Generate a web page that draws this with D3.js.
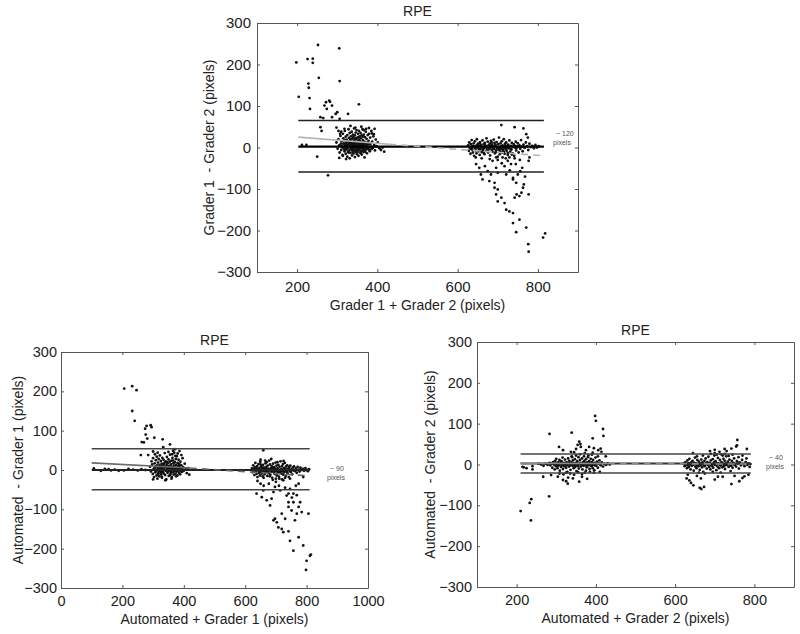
<!DOCTYPE html>
<html><head><meta charset="utf-8">
<script src="https://cdn.jsdelivr.net/npm/d3@7"></script>
<style>
body{margin:0;background:#fff}
text{font-family:"Liberation Sans",Arial,Helvetica,sans-serif;fill:#222}
</style></head>
<body><svg id="chart" width="800" height="634"></svg>
<script>
// ---------------- DATA ----------------
const panelTitles = ["RPE", "RPE", "RPE"];
const xAxisLabels = ["Grader 1 + Grader 2 (pixels)", "Automated + Grader 1 (pixels)", "Automated + Grader 2 (pixels)"];
const yAxisLabels = ["Grader 1  - Grader 2 (pixels)", "Automated  - Grader 1 (pixels)", "Automated  - Grader 2 (pixels)"];
const yTickValues = [-300, -200, -100, 0, 100, 200, 300];
const xTicksG12 = [200, 400, 600, 800];
const xTicksA1 = [0, 200, 400, 600, 800, 1000];
const xTicksA2 = [200, 400, 600, 800];
const xDomainG12 = [100, 900];
const xDomainA1 = [0, 1000];
const xDomainA2 = [100, 900];
const yDomain = [-300, 300];
const spanNotes = [["~ 120", "pixels"], ["~ 90", "pixels"], ["~ 40", "pixels"]];

// limits of agreement: [upper, mean, lower]
const g12Limits = [65, 2, -59];
const a1Limits = [54, 0, -50];
const a2Limits = [26, 2.5, -21];
const g12Span = [203, 815];
const a1Span = [100, 810];
const a2Span = [210, 791];
// regression fit endpoints
const g12Fit = [[203, 25], [430, 8], [815, -20]];
const a1Fit = [[100, 18], [420, 5], [810, -15]];
const a2Fit = [[210, 3], [430, 2.5], [791, 1]];

const g12Points = [
[198,205],[204,122],[226,213],[239,214],[239,204],[228,154],[229,144],[231,119],[232,93],[252,247],[254,168],[305,239],[306,160],
[268,101],[272,109],[280,113],[282,110],[274,93],[287,101],[258,73],[265,71],[287,73],[296,81],[300,85],[327,81],[354,104],[306,69],
[212,6],[223,6],[250,-22],[277,-67],[258,49],[261,40],
[298,12],[301,-3],[303,20],[305,5],[306,-12],[308,28],[309,9],[310,-6],[311,15],[312,1],[313,-18],[314,33],[315,22],[316,-2],[317,8],[318,-9],[318,17],[319,40],[320,3],[321,-15],[321,26],[322,11],[323,-5],[323,19],[324,0],[325,-22],[325,30],[326,7],[327,-10],[327,14],[328,44],[328,2],[329,23],[330,-7],[330,10],[331,-26],[331,35],[332,4],[332,18],[333,-13],[333,-1],[334,27],[334,9],[335,-4],[335,14],[336,38],[336,0],[337,21],[337,-19],[338,6],[338,-8],[339,31],[339,12],[340,-2],[340,25],[341,-14],[341,3],[342,17],[342,46],[343,-6],[343,8],[344,29],[344,-23],[345,1],[345,13],[346,36],[346,-10],[347,20],[347,5],[348,-3],[348,42],[349,11],[349,-16],[350,24],[350,2],[351,-8],[351,15],[352,33],[352,-1],[353,7],[353,-20],[354,19],[354,40],[355,-5],[355,10],[356,27],[356,-12],[357,3],[357,15],[358,-2],[358,35],[359,22],[360,-9],[360,6],[361,29],[361,-17],[362,12],[362,0],[363,44],[364,-4],[364,18],[365,8],[366,-11],[366,31],[367,2],[368,14],[368,-24],[369,25],[370,-6],[370,5],[371,38],[372,11],[373,-2],[373,21],[374,-14],[375,7],[376,30],[377,-3],[378,16],[379,47],[380,1],[381,-9],[382,24],[383,9],[385,-4],[386,34],[387,14],[389,-1],[390,27],[392,6],[394,-7],[396,19],[398,3],[401,12],[405,-2],[409,-6],[413,0],[417,-10],[305,-25],[314,-20],[322,-28],[318,45],[310,38],[307,33],[333,52],[345,48],[360,50],[366,42],[372,45],[379,33],[385,40],[391,32],[393,45],[298,48],[303,40],
[312,4],[316,10],[319,-4],[322,6],[326,-1],[329,13],[331,7],[334,1],[336,11],[338,-5],[340,8],[343,14],[345,-7],[347,11],[350,-3],[352,9],[354,3],[356,5],[358,10],[361,-1],[363,6],[365,-6],[367,10],[369,1],[371,-2],[374,4],[376,12],[378,-5],[380,8],[384,2],[324,16],[328,-12],[333,20],[339,-11],[344,22],[349,-12],[353,25],[359,-13],[364,26],[370,-10],
[626,5],[628,-8],[629,12],[631,-2],[632,-15],[633,8],[635,18],[636,-5],[637,2],[638,-12],[640,10],[641,-20],[642,0],[643,15],[645,-7],[646,4],[647,-14],[648,20],[650,-1],[651,9],[652,-9],[653,3],[655,-18],[656,13],[657,-4],[658,6],[660,-11],[661,1],[662,17],[663,-6],[665,8],[666,-2],[667,-16],[668,11],[670,3],[671,-8],[672,22],[673,-1],[675,14],[676,-12],[677,5],[678,-4],[680,9],[681,-19],[682,0],[683,16],[685,-6],[686,7],[687,-10],[688,2],[690,19],[691,-3],[692,11],[693,-14],[695,4],[696,-7],[697,13],[698,-1],[700,-22],[701,8],[702,-5],[703,24],[705,1],[706,-9],[707,10],[708,-3],[710,15],[711,-12],[712,5],[713,-6],[715,20],[716,0],[717,-15],[718,9],[720,-4],[721,12],[722,-8],[724,3],[725,-18],[726,7],[728,-2],[729,17],[731,-10],[732,4],[734,-5],[735,11],[737,-14],[738,1],[740,8],[741,-20],[743,3],[745,14],[746,-7],[748,0],[750,10],[752,-12],[754,5],[756,-3],[758,18],[760,2],[762,-9],[764,7],[767,-1],[770,12],[773,3],[776,-6],[779,9],[782,1],[786,4],[790,-2],[794,6],[798,0],[802,3],
[630,1],[634,-3],[639,4],[644,-2],[649,6],[654,-4],[659,2],[664,-1],[669,5],[674,-3],[679,1],[684,4],[689,-2],[694,6],[699,0],[704,-3],[709,3],[714,-1],[719,4],[723,-2],[727,1],[733,-4],[739,2],[744,-1],[749,3],[655,10],[665,-13],[675,-9],[685,12],[695,-11],[705,-16],[715,-10],[725,-13],[735,-17],[645,-24],[660,-26],[680,-28],[700,-30],[720,-26],[742,-26],
[709,54],[742,49],[764,46],[771,32],[775,24],
[696,-113],[700,-130],[709,-121],[717,-134],[721,-150],[729,-154],[742,-121],[747,-113],[754,-117],[759,-109],[763,-97],[765,-89],[777,-113],[746,-85],[738,-77],[750,-65],[756,-57],[761,-49],[777,-32],[779,-24],
[738,-158],[754,-174],[738,-182],[746,-204],[771,-193],[776,-233],[777,-251],[813,-217],[818,-207],
[646,-40],[654,-49],[658,-65],[662,-77],[675,-57],[683,-65],[692,-85],[696,-49],[700,-61],[679,-81],[687,-32],[696,-24],[712,-24],[717,-45],[725,-32],[729,-24],[733,-40],[738,-73],[721,-65],[700,-101],[692,-97],[710,-38],[668,-45],[730,-55],[745,-40],[755,-30],[768,-70]
];

const a1Points = [
[107,4],[130,-2],[143,3],[155,2],[163,-1],[175,1],[188,-2],[205,-1],[220,3],[235,1],[250,-1],[262,2],[275,0],
[206,207],[232,213],[246,203],[232,150],[240,125],[274,105],[279,112],[292,114],[295,109],[276,90],[281,80],[263,71],[270,70],[304,82],[331,78],[355,65],[371,53],[260,38],[284,38],[300,47],[315,44],[333,58],[365,49],
[290,8],[293,-4],[295,22],[297,14],[299,-10],[300,30],[302,3],[303,-18],[305,17],[306,40],[307,-6],[308,9],[309,25],[310,-1],[311,-14],[312,34],[313,12],[314,-22],[315,4],[316,19],[317,-8],[318,28],[319,1],[320,-16],[321,13],[322,37],[323,-3],[324,7],[325,23],[326,-11],[327,2],[328,16],[329,-20],[330,31],[331,6],[332,-5],[333,11],[334,26],[335,-9],[336,0],[337,18],[338,43],[339,-13],[340,8],[341,22],[342,-2],[343,-24],[344,13],[345,33],[346,4],[347,-7],[348,17],[349,1],[350,27],[351,-15],[352,10],[353,-3],[354,21],[355,39],[356,5],[357,-10],[358,14],[359,-1],[360,24],[361,-18],[362,8],[363,31],[364,2],[365,-6],[366,17],[367,-12],[368,11],[369,44],[370,-2],[371,20],[372,6],[373,-9],[374,28],[375,13],[376,-4],[377,35],[378,3],[379,-14],[380,18],[381,9],[382,-1],[383,26],[384,-7],[385,15],[386,48],[387,4],[388,-11],[389,21],[390,1],[392,12],[394,-5],[396,30],[398,7],[400,-2],[403,16],[406,3],[410,-8],[414,5],[418,-12],
[305,5],[309,-3],[314,9],[318,-2],[322,4],[326,10],[330,-4],[334,6],[338,1],[342,9],[346,-3],[350,4],[354,8],[358,-5],[362,2],[366,7],[370,0],[374,5],[378,-2],[382,4],[386,10],[390,-3],[395,3],[315,-12],[325,-8],[335,15],[345,20],[355,-13],[365,24],[375,-16],[385,14],[360,-22],[340,-26],[328,-17],[372,36],[362,40],[350,46],[392,38],[380,42],[300,-24],
[622,4],[624,-6],[626,12],[628,-1],[630,-13],[631,7],[633,18],[634,-4],[636,2],[637,-10],[639,10],[640,-18],[642,0],[643,15],[645,-7],[646,5],[648,-14],[649,21],[651,-1],[652,9],[654,-9],[655,3],[657,-16],[658,13],[660,-3],[661,6],[663,-11],[664,1],[666,17],[667,-6],[669,8],[670,-2],[672,-15],[673,11],[675,3],[676,-8],[678,24],[679,-1],[681,14],[682,-12],[684,5],[685,-4],[687,9],[688,-20],[690,0],[691,16],[693,-6],[694,7],[696,-10],[697,2],[699,19],[700,-3],[702,11],[703,-14],[705,4],[706,-7],[708,13],[709,-1],[711,-22],[712,8],[714,-5],[715,22],[717,1],[718,-9],[720,10],[721,-3],[723,15],[724,-12],[726,5],[727,-6],[729,18],[730,0],[732,-15],[733,9],[735,-4],[737,12],[738,-8],[740,3],[742,-18],[743,7],[745,-2],[747,11],[749,-5],[751,2],[753,-11],[755,6],[757,-1],[759,9],[762,-3],[765,4],[768,-7],[771,8],[774,1],[777,-4],[780,6],[784,0],[788,3],[792,-2],[796,5],[800,1],[804,-3],[808,2],
[628,3],[632,-2],[637,5],[641,-1],[646,2],[650,-4],[655,6],[659,0],[664,-2],[668,4],[673,-4],[677,2],[682,0],[686,-3],[691,5],[695,-1],[700,3],[704,-2],[709,1],[713,-4],[718,3],[722,0],[727,-2],[731,4],[736,-1],[741,2],[746,-3],[650,14],[660,-20],[670,20],[680,-16],[690,-25],[700,-22],[710,-17],[720,-24],[730,-20],[650,26],[665,24],[685,28],[705,20],[725,23],
[659,50],[637,-60],[654,-69],[670,-77],[686,-73],[659,-52],[681,-90],[692,-128],[703,-133],[697,-124],[708,-146],[719,-150],[724,-158],[741,-156],[746,-180],[757,-205],[757,-82],[751,-103],[741,-94],[768,-111],[774,-94],[784,-107],[762,-128],[774,-171],[789,-192],[800,-231],[798,-254],[811,-218],[814,-215],[719,-111],[730,-124],[741,-60],[746,-48],[714,-52],[697,-43],[757,-60],[779,-82],[741,-82],[724,-26],[746,-22],[774,-35],[789,-18],[806,-111],[700,-30],[710,-40],[730,-45],[765,-40],[650,-35],[640,-28],[660,-40],[677,-35],[692,-56],[735,-65],[752,-70],[768,-64]
];

const a2Points = [
[215,-6],[218,-7],[225,-9],[240,-4],[255,2],[262,0],[268,-3],[273,2],[278,-1],[283,4],
[285,-2],[288,3],[290,-8],[292,6],[294,0],[296,-12],[297,9],[299,-4],[300,14],[302,1],[303,-9],[305,5],[306,-2],[308,11],[309,-15],[310,3],[312,-6],[313,8],[315,-1],[316,17],[317,-11],[319,4],[320,-3],[322,12],[323,0],[325,-8],[326,6],[328,-18],[329,2],[330,15],[332,-5],[333,9],[335,-1],[336,-13],[338,5],[339,20],[341,-3],[342,10],[344,-9],[345,1],[347,13],[348,-6],[350,4],[351,-16],[353,8],[354,-2],[356,18],[357,-10],[359,3],[360,11],[362,-5],[363,0],[365,15],[366,-12],[368,6],[369,-3],[371,9],[372,-20],[374,2],[375,13],[377,-7],[378,5],[380,-1],[381,22],[383,8],[384,-11],[386,1],[387,14],[389,-4],[390,6],[392,-9],[393,11],[395,0],[396,-14],[398,4],[399,17],[401,-3],[403,7],[405,-8],[407,2],[409,10],[412,-2],[415,5],[418,-5],[422,1],[426,-1],[430,3],[435,0],
[293,2],[298,-1],[301,4],[304,-3],[307,1],[311,5],[314,-2],[318,2],[321,-4],[324,3],[327,-1],[331,4],[334,-3],[337,1],[340,4],[343,-2],[346,3],[349,-1],[352,2],[355,-4],[358,1],[361,4],[364,-2],[367,2],[370,-1],[373,4],[376,-3],[379,2],[382,-2],[385,4],[388,0],[391,-1],[394,3],[397,-2],[325,-20],[335,-22],[345,-25],[355,-19],[365,-23],[375,-15],[385,-18],[395,-20],[340,18],[350,22],[360,25],[370,20],[380,18],[390,24],[345,30],[372,28],[318,-24],[392,29],[405,20],[410,-18],
[210,-114],[233,-94],[237,-85],[236,-137],[282,-78],[283,75],[339,78],[307,43],[317,35],[337,31],[358,56],[361,50],[362,43],[392,64],[398,119],[400,107],[418,87],[419,70],[412,39],[406,35],[383,43],[375,35],[354,48],[304,-30],[317,-38],[329,-47],[325,-41],[342,-34],[358,-42],[287,-26],[308,-22],[267,-30],[240,-12],[365,-30],[378,-35],[330,-32],[350,38],[395,40],[414,31],[425,20],
[622,2],[624,-4],[626,6],[628,-1],[630,-9],[631,10],[633,3],[635,-6],[636,14],[638,0],[639,-12],[641,5],[642,-3],[644,9],[645,-1],[647,-15],[648,4],[650,17],[651,-5],[653,2],[654,-9],[656,11],[657,0],[659,-4],[660,7],[662,-13],[663,3],[665,-2],[666,12],[668,-7],[669,5],[671,-18],[672,1],[674,9],[675,-4],[677,15],[678,2],[680,-10],[681,6],[683,-1],[684,19],[686,-6],[687,4],[689,-12],[690,10],[692,0],[693,-3],[695,13],[696,-8],[698,5],[699,22],[701,-1],[702,8],[704,-14],[705,3],[707,-5],[708,16],[710,1],[711,-9],[713,11],[714,-2],[716,25],[717,6],[719,-7],[720,2],[722,14],[723,-4],[725,9],[726,-11],[728,3],[729,20],[731,-1],[733,7],[735,-6],[737,12],[739,2],[741,-3],[743,9],[745,-8],[747,4],[749,15],[751,0],[754,-5],[756,8],[758,2],[761,-10],[763,5],[766,-2],[769,11],[772,1],[775,-4],[778,6],[782,-1],[785,3],[788,-6],[790,1],
[627,1],[632,-2],[637,3],[643,-1],[649,2],[655,-2],[661,1],[667,3],[673,-2],[679,1],[685,3],[691,-2],[697,1],[703,-1],[709,3],[715,-2],[721,1],[727,-1],[733,2],[739,-2],[745,1],[750,-1],[655,20],[670,22],[690,26],[705,24],[720,22],[735,21],[660,-20],[675,-22],[695,-18],[715,-20],[740,-16],[700,28],[725,26],[745,24],[760,18],[770,22],[780,15],
[629,-34],[636,-39],[640,-45],[646,-51],[662,-57],[666,-60],[673,-55],[757,60],[756,47],[754,44],[781,38],[742,39],[725,38],[712,31],[742,-48],[762,-41],[700,-37],[708,-30],[775,-29],[645,28],[632,-25],[688,33],[700,36],[730,33],[665,-34],[655,-28],[720,-30],[750,-28],[770,-33],[785,-25]
];

// ---------------- DRAW ----------------
const svg = d3.select("#chart");
const panels = [
  {pts:g12Points, xDom:xDomainG12, xTicks:xTicksG12, box:{l:257,r:578,t:23,b:272}, lim:g12Limits, span:g12Span, fit:g12Fit,
   title:panelTitles[0], xl:xAxisLabels[0], yl:yAxisLabels[0], note:spanNotes[0],
   titleY:16, xlY:310, ylX:214, yPad:6, xPad:9, tickFont:15, noteX:553, noteY:136,
   loaColor:"#222", meanColor:"#000", meanW:2.2, fitColor:"#b4b4b4"},
  {pts:a1Points, xDom:xDomainA1, xTicks:xTicksA1, box:{l:61,r:368,t:352,b:588}, lim:a1Limits, span:a1Span, fit:a1Fit,
   title:panelTitles[1], xl:xAxisLabels[1], yl:yAxisLabels[1], note:spanNotes[1],
   titleY:345, xlY:624, ylX:23, yPad:4, xPad:8, tickFont:14.5, noteX:327, noteY:471,
   loaColor:"#444", meanColor:"#222", meanW:1.8, fitColor:"#6a6a6a"},
  {pts:a2Points, xDom:xDomainA2, xTicks:xTicksA2, box:{l:477,r:794,t:342,b:587}, lim:a2Limits, span:a2Span, fit:a2Fit,
   title:panelTitles[2], xl:xAxisLabels[2], yl:yAxisLabels[2], note:spanNotes[2],
   titleY:335, xlY:623, ylX:435, yPad:5, xPad:8, tickFont:14.5, noteX:766, noteY:460,
   loaColor:"#444", meanColor:"#333", meanW:1.8, fitColor:"#8a8a8a"}
];

panels.forEach(p => {
  const {l, r, t, b} = p.box;
  const x = d3.scaleLinear().domain(p.xDom).range([l, r]);
  const y = d3.scaleLinear().domain(yDomain).range([b, t]);
  const g = svg.append("g");

  // points
  g.append("g").selectAll("circle").data(p.pts).join("circle")
    .attr("cx", d => x(d[0])).attr("cy", d => y(d[1])).attr("r", 1.4).attr("fill", "#111");

  // limits of agreement
  [0, 2].forEach(i => {
    g.append("line").attr("x1", x(p.span[0])).attr("x2", x(p.span[1]))
      .attr("y1", y(p.lim[i])).attr("y2", y(p.lim[i]))
      .attr("stroke", p.loaColor).attr("stroke-width", 1.5);
  });
  g.append("line").attr("x1", x(p.span[0])).attr("x2", x(p.span[1]))
    .attr("y1", y(p.lim[1])).attr("y2", y(p.lim[1]))
    .attr("stroke", p.meanColor).attr("stroke-width", p.meanW);

  // regression fit: solid part then dashed part
  g.append("line").attr("x1", x(p.fit[0][0])).attr("y1", y(p.fit[0][1]))
    .attr("x2", x(p.fit[1][0])).attr("y2", y(p.fit[1][1]))
    .attr("stroke", p.fitColor).attr("stroke-width", 1.6);
  g.append("line").attr("x1", x(p.fit[1][0])).attr("y1", y(p.fit[1][1]))
    .attr("x2", x(p.fit[2][0])).attr("y2", y(p.fit[2][1]))
    .attr("stroke", p.fitColor).attr("stroke-width", 1.6).attr("stroke-dasharray", "7,5");

  // axes (box with inward ticks)
  const styleAxis = sel => {
    sel.attr("font-family", null);
    sel.select(".domain").attr("stroke", "#555").attr("stroke-width", 1);
    sel.selectAll(".tick line").attr("stroke", "#555");
    sel.selectAll("text").style("font-size", p.tickFont + "px").attr("fill", "#222");
  };
  g.append("g").attr("transform", `translate(0,${b})`)
    .call(d3.axisBottom(x).tickValues(p.xTicks).tickSizeInner(-3).tickSizeOuter(0).tickPadding(p.xPad).tickFormat(d3.format("d")))
    .call(styleAxis);
  g.append("g").attr("transform", `translate(0,${t})`)
    .call(d3.axisTop(x).tickValues(p.xTicks).tickSizeInner(-3).tickSizeOuter(0).tickFormat(""))
    .call(styleAxis);
  g.append("g").attr("transform", `translate(${l},0)`)
    .call(d3.axisLeft(y).tickValues(yTickValues).tickSizeInner(-3).tickSizeOuter(0).tickPadding(p.yPad).tickFormat(d3.format("d")))
    .call(styleAxis);
  g.append("g").attr("transform", `translate(${r},0)`)
    .call(d3.axisRight(y).tickValues(yTickValues).tickSizeInner(-3).tickSizeOuter(0).tickFormat(""))
    .call(styleAxis);

  // texts
  g.append("text").attr("x", (l + r) / 2).attr("y", p.titleY).attr("text-anchor", "middle")
    .style("font-size", "14px").text(p.title);
  g.append("text").attr("x", (l + r) / 2).attr("y", p.xlY).attr("text-anchor", "middle")
    .style("font-size", "14px").text(p.xl);
  g.append("text").attr("transform", `translate(${p.ylX},${(t + b) / 2}) rotate(-90)`)
    .attr("text-anchor", "middle").style("font-size", "14px").style("white-space", "pre").text(p.yl);
  g.append("text").attr("x", p.noteX + 3).attr("y", p.noteY).style("font-size", "7px").style("fill", "#555").text(p.note[0]);
  g.append("text").attr("x", p.noteX).attr("y", p.noteY + 9).style("font-size", "7px").style("fill", "#555").text(p.note[1]);
});
</script></body></html>
